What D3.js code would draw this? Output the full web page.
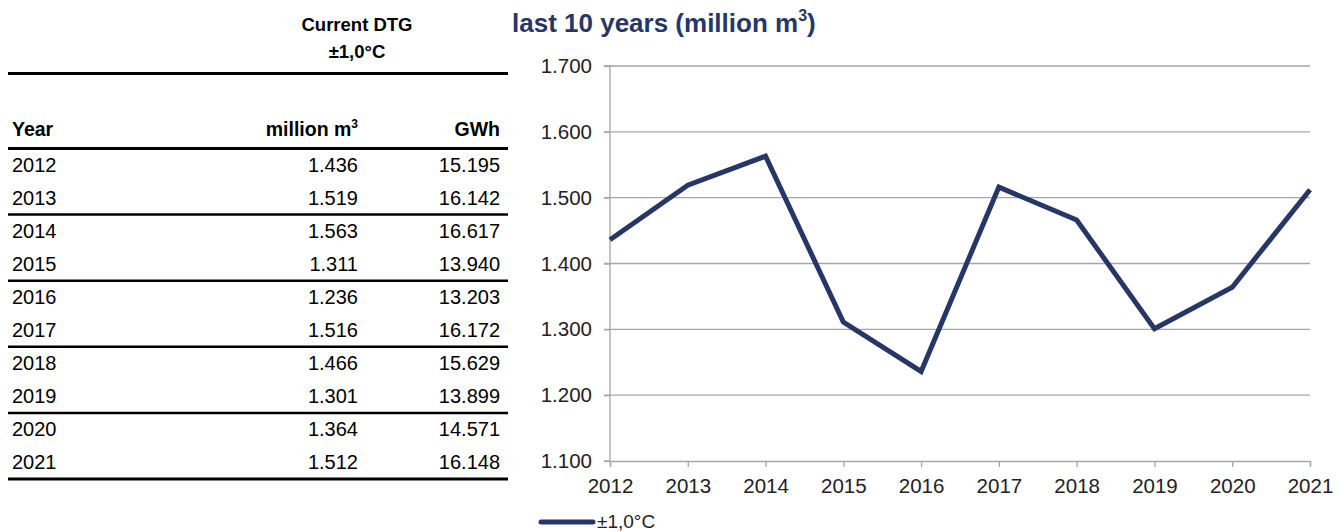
<!DOCTYPE html>
<html>
<head>
<meta charset="utf-8">
<script src="https://cdn.jsdelivr.net/npm/d3@7"></script>
<style>
  body { margin: 0; background: #fff; }
  svg { font-family: "Liberation Sans", Arial, sans-serif; }
</style>
</head>
<body>
<div id="chartArea"></div>
<script>
var years = [2012, 2013, 2014, 2015, 2016, 2017, 2018, 2019, 2020, 2021];
var volumes = [1.436, 1.519, 1.563, 1.311, 1.236, 1.516, 1.466, 1.301, 1.364, 1.512];
var gwh = [15.195, 16.142, 16.617, 13.940, 13.203, 16.172, 15.629, 13.899, 14.571, 16.148];
var yTicks = [1.1, 1.2, 1.3, 1.4, 1.5, 1.6, 1.7];
var seriesName = "\u00b11,0\u00b0C";

var navy = "#263767";
var width = 1340, height = 532;

var svg = d3.select("#chartArea").append("svg")
    .attr("width", width)
    .attr("height", height);

// ---- table on the left ----
var fmt = function(v) { return v.toFixed(3); };
var rowY = d3.scaleLinear().domain([0, 10]).range([148.5, 479]);
var table = svg.append("g");

table.append("text").attr("x", 357).attr("y", 31).attr("text-anchor", "middle")
    .style("font-size", "18.5px").style("font-weight", "bold").text("Current DTG");
table.append("text").attr("x", 357).attr("y", 58).attr("text-anchor", "middle")
    .style("font-size", "18.5px").style("font-weight", "bold").text(seriesName);

table.append("line").attr("x1", 8).attr("x2", 508).attr("y1", 73.5).attr("y2", 73.5)
    .attr("stroke", "#000").attr("stroke-width", 3);

var head = table.append("g").style("font-size", "19.5px").style("font-weight", "bold");
head.append("text").attr("x", 12).attr("y", 136).text("Year");
var mh = head.append("text").attr("x", 358).attr("y", 136).attr("text-anchor", "end");
mh.append("tspan").text("million m");
mh.append("tspan").attr("dy", -8).style("font-size", "12px").text("3");
head.append("text").attr("x", 500).attr("y", 136).attr("text-anchor", "end").text("GWh");

table.append("line").attr("x1", 8).attr("x2", 508).attr("y1", rowY(0)).attr("y2", rowY(0))
    .attr("stroke", "#000").attr("stroke-width", 3);

var rows = table.selectAll("g.row").data(years).enter().append("g").attr("class", "row")
    .style("font-size", "20px").attr("fill", "#000");
rows.append("text").attr("x", 12).attr("y", function(d, i) { return rowY(i + 0.5) + 7; })
    .text(function(d) { return d; });
rows.append("text").attr("x", 358).attr("y", function(d, i) { return rowY(i + 0.5) + 7; })
    .attr("text-anchor", "end").text(function(d, i) { return fmt(volumes[i]); });
rows.append("text").attr("x", 500).attr("y", function(d, i) { return rowY(i + 0.5) + 7; })
    .attr("text-anchor", "end").text(function(d, i) { return fmt(gwh[i]); });

table.selectAll("line.sep").data([2, 4, 6, 8, 10]).enter().append("line").attr("class", "sep")
    .attr("x1", 8).attr("x2", 508)
    .attr("y1", function(d) { return rowY(d); }).attr("y2", function(d) { return rowY(d); })
    .attr("stroke", "#000").attr("stroke-width", function(d) { return d == 10 ? 3 : 2.5; });

// ---- line chart ----
var x = d3.scalePoint().domain(years).range([610, 1310]);
var y = d3.scaleLinear().domain([1.1, 1.7]).range([461, 66]);

var title = svg.append("text").attr("x", 512).attr("y", 32)
    .style("font-size", "26px").style("font-weight", "bold").attr("fill", navy);
title.append("tspan").text("last 10 years (million m");
title.append("tspan").attr("dy", -11).style("font-size", "16px").text("3");
title.append("tspan").attr("dy", 11).text(")");

// gridlines
svg.append("g").selectAll("line").data(yTicks.slice(1)).enter().append("line")
    .attr("x1", 604).attr("x2", 1310)
    .attr("y1", function(d) { return y(d); }).attr("y2", function(d) { return y(d); })
    .attr("stroke", "#a6a6a6").attr("stroke-width", 1.3);

var yAxis = svg.append("g").attr("transform", "translate(610,0)")
    .call(d3.axisLeft(y).tickValues(yTicks).tickSize(6).tickPadding(12)
        .tickFormat(d3.format(".3f")));
var xAxis = svg.append("g").attr("transform", "translate(0,461)")
    .call(d3.axisBottom(x).tickSize(6).tickPadding(11).tickFormat(d3.format("d")));

[yAxis, xAxis].forEach(function(ax) {
    ax.select(".domain").attr("stroke", "#a6a6a6").attr("stroke-width", 1.3);
    ax.selectAll(".tick line").attr("stroke", "#a6a6a6").attr("stroke-width", 1.3);
    ax.selectAll(".tick text").attr("fill", "#222").style("font-size", "20.5px")
        .style("font-family", "Liberation Sans, Arial, sans-serif");
});
yAxis.select(".domain").attr("d", "M-6,461H0V66H-6");

var line = d3.line()
    .x(function(d, i) { return x(years[i]); })
    .y(function(d) { return y(d); });
svg.append("path").datum(volumes)
    .attr("d", line)
    .attr("fill", "none")
    .attr("stroke", navy)
    .attr("stroke-width", 5)
    .attr("stroke-linejoin", "miter");

// legend
var legend = svg.append("g");
legend.append("line").attr("x1", 541).attr("x2", 593).attr("y1", 522).attr("y2", 522)
    .attr("stroke", navy).attr("stroke-width", 5).attr("stroke-linecap", "round");
legend.append("text").attr("x", 597).attr("y", 528).style("font-size", "19px")
    .attr("fill", "#222").text(seriesName);
</script>
</body>
</html>
